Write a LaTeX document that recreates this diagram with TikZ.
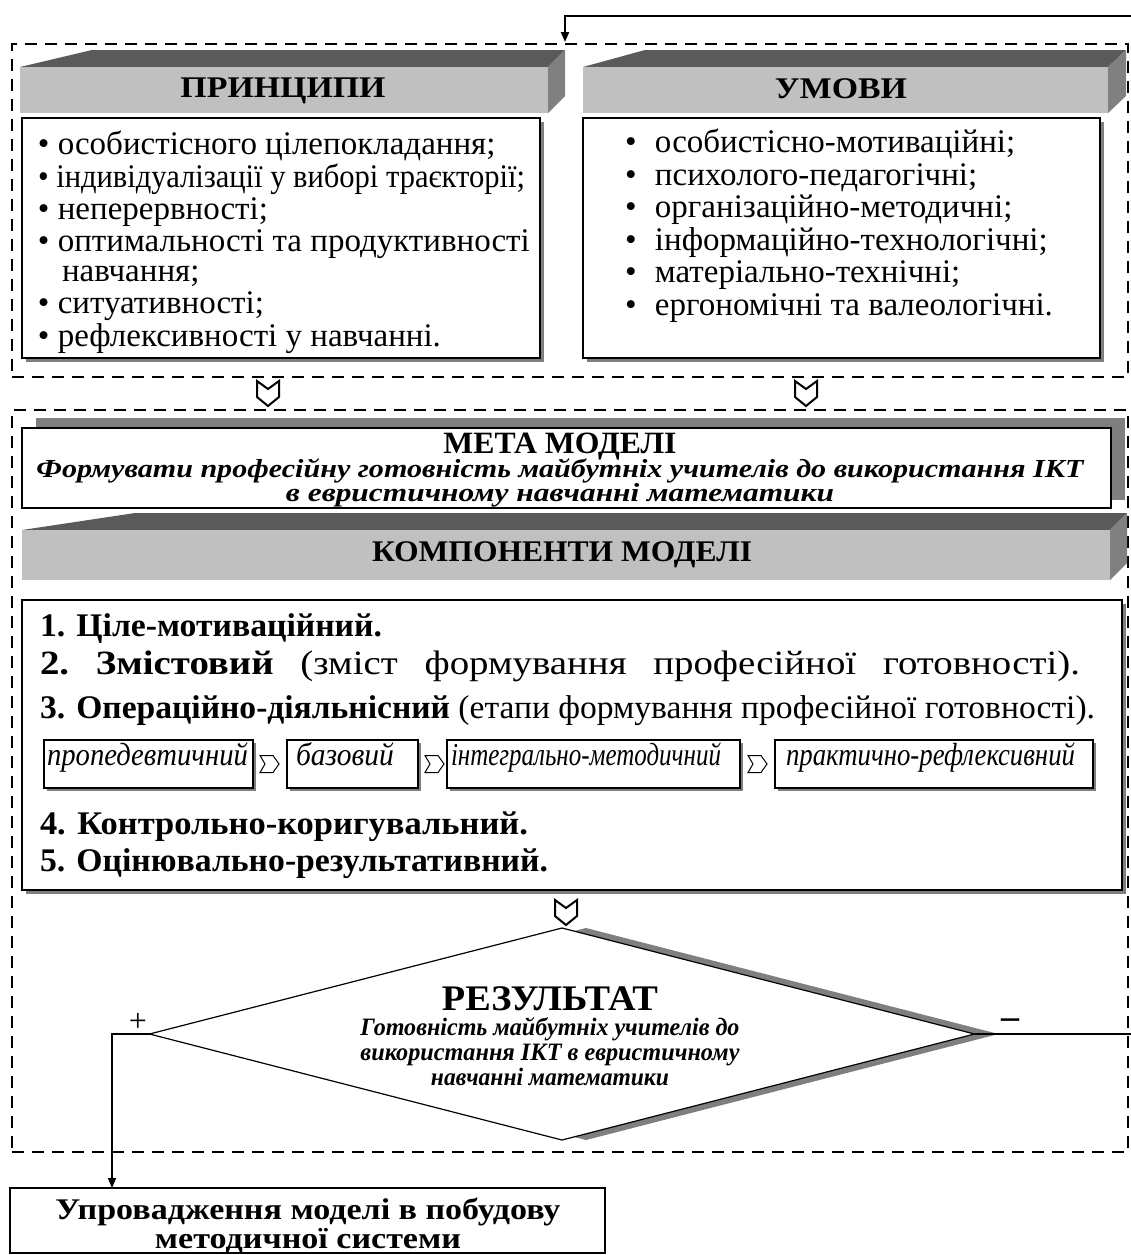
\documentclass[tikz,border=0pt]{standalone}
\usepackage{fontspec}
\IfFontExistsTF{LiberationSerif-Regular.ttf}{%
  \setmainfont{LiberationSerif}[Extension=.ttf, UprightFont=*-Regular, BoldFont=*-Bold, ItalicFont=*-Italic, BoldItalicFont=*-BoldItalic]}{%
  \setmainfont{Liberation Serif}}
\usepackage{graphicx}
\usetikzlibrary{shapes.geometric,arrows.meta,calc,shadows}
\definecolor{topc}{HTML}{5A5A5A}
\definecolor{frontc}{HTML}{C0C0C0}
\definecolor{sidec}{HTML}{808080}
\definecolor{shadc}{HTML}{7F7F7F}
\newcommand\fw[2]{\resizebox{#1}{\height}{#2}}
\lineskiplimit=-30pt
\begin{document}
\begin{tikzpicture}[x=0.5pt,y=-0.5pt,
  grp/.style={draw, dash pattern=on 6pt off 4pt, line width=1.2pt, inner sep=0, outer sep=0, anchor=north west},
  cbox/.style={draw, fill=white, line width=0.8pt, inner sep=0, outer sep=0, anchor=north west,
     drop shadow={shadow xshift=2pt, shadow yshift=-2pt, fill=shadc, opacity=1}},
  sbox/.style={draw, fill=white, line width=0.6pt, inner sep=0, outer sep=0, anchor=north west,
     drop shadow={shadow xshift=1.5pt, shadow yshift=-1.5pt, fill=shadc, opacity=1}},
  ftop/.style={fill=topc},
  ffront/.style={fill=frontc},
  fside/.style={fill=sidec},
  lst/.style={inner sep=0, outer sep=0, anchor=base west, text depth=0pt, font=\fontsize{16.5}{18}\selectfont},
  hdr/.style={inner sep=0, outer sep=0, font=\fontsize{15}{18}\selectfont\bfseries},
  stg/.style={inner sep=0, outer sep=0, anchor=base west, font=\fontsize{16}{18}\selectfont\itshape},
  conn/.style={line width=1pt},
  conn2/.style={line width=0.7pt},
  arr/.style={-{Triangle[length=5pt,width=4pt]}},
  dchev/.pic={\draw[line width=1pt, fill=white] (-11,0) -- (0,8) -- (11,0) -- (11,16) -- (0,25) -- (-11,16) -- cycle;},
  rchev/.pic={\draw[line width=0.5pt, fill=white] (0,-8.5) -- (13,-8.5) -- (19,0) -- (13,8.5) -- (0,8.5) -- (5,0) -- cycle;},
]
\useasboundingbox (0,0) rectangle (1131,1255);

% ---------- group 1 ----------
\node[grp, minimum width=558pt, minimum height=166.5pt] (grp1) at (12,44) {};

% principles header
\fill[ftop] (20,67) -- (92,50) -- (565,50) -- (548,67) -- cycle;
\fill[ffront] (20,67) rectangle (548,113);
\fill[fside] (548,67) -- (565,50) -- (565,96) -- (548,113) -- cycle;
\node[hdr] (phead) at (283,91) {\fw{102.5pt}{ПРИНЦИПИ}};

% conditions header
\fill[ftop] (583,67) -- (645,50) -- (1126,50) -- (1108,67) -- cycle;
\fill[ffront] (583,67) rectangle (1108,113);
\fill[fside] (1108,67) -- (1126,50) -- (1126,96) -- (1108,113) -- cycle;
\node[hdr] (uhead) at (841,89) {\fw{66pt}{УМОВИ}};

% principles box
\node[cbox, minimum width=259pt, minimum height=120pt] (pbox) at (22,118) {};
\node[lst] (p1) at (38,154) {• особистісного цілепокладання;};
\node[lst] (p2) at (38,187) {\fw{243.5pt}{• індивідуалізації у виборі траєкторії;}};
\node[lst] (p3) at (38,219) {• неперервності;};
\node[lst] (p4) at (38,251) {• оптимальності та продуктивності};
\node[lst] (p5) at (62,281) {навчання;};
\node[lst] (p6) at (38,313) {• ситуативності;};
\node[lst] (p7) at (38,346) {• рефлексивності у навчанні.};

% conditions box
\node[cbox, minimum width=258.5pt, minimum height=120pt] (ubox) at (583,118) {};
\node[lst] (u1) at (625,152) {\makebox[15pt][l]{•}особистісно-мотиваційні;};
\node[lst] (u2) at (625,185) {\makebox[15pt][l]{•}психолого-педагогічні;};
\node[lst] (u3) at (625,217) {\makebox[15pt][l]{•}організаційно-методичні;};
\node[lst] (u4) at (625,250) {\makebox[15pt][l]{•}інформаційно-технологічні;};
\node[lst] (u5) at (625,282) {\makebox[15pt][l]{•}матеріально-технічні;};
\node[lst] (u6) at (625,315) {\makebox[15pt][l]{•}ергономічні та валеологічні.};

% chevrons between groups
\pic at (268,381) {dchev};
\pic at (806,381) {dchev};

% ---------- group 2 ----------
\node[grp, minimum width=558pt, minimum height=371pt] (grp2) at (12,410) {};

% goal box
\fill[shadc] (36,418) rectangle (1125,500);
\node[draw, fill=white, line width=0.8pt, inner sep=0, outer sep=0, anchor=north west,
      minimum width=544.5pt, minimum height=40pt] (meta) at (22,428) {};
\node[inner sep=0, outer sep=0, align=center, font=\fontsize{13}{12}\selectfont\bfseries] (metatxt) at (560,470)
  {{\fontsize{15.5}{12}\selectfont\fw{116.5pt}{МЕТА МОДЕЛІ}}\\ \fw{523.5pt}{\itshape Формувати професійну готовність майбутніх учителів до використання ІКТ}\\ \fw{274pt}{\itshape в евристичному навчанні математики}};

% components header
\fill[ftop] (22,530) -- (135,513) -- (1127,513) -- (1110,530) -- cycle;
\fill[ffront] (22,530) rectangle (1110,580);
\fill[fside] (1110,530) -- (1127,513) -- (1127,563) -- (1110,580) -- cycle;
\node[hdr] (khead) at (562,555) {\fw{190pt}{КОМПОНЕНТИ МОДЕЛІ}};

% components box
\node[cbox, minimum width=550pt, minimum height=145pt] (comps) at (22,600) {};
\node[lst] (c1) at (40,636) {\fw{171pt}{\textbf{1. Ціле-мотиваційний.}}};
\node[lst, font=\fontsize{17}{18}\selectfont] (c2) at (40,674) {\fw{520pt}{\makebox[455pt][s]{\frenchspacing\textbf{2. Змістовий} (зміст формування професійної готовності).}}};
\node[lst] (c3) at (40,718) {\fw{527.5pt}{\textbf{3. Операційно-діяльнісний} (етапи формування професійної готовності).}};
\node[lst] (c4) at (40,834) {\fw{244pt}{\textbf{4. Контрольно-коригувальний.}}};
\node[lst] (c5) at (40,871) {\fw{254pt}{\textbf{5. Оцінювально-результативний.}}};

% stages
\node[sbox, minimum width=104.5pt, minimum height=24pt] (s1) at (44,740) {};
\node[sbox, minimum width=65.5pt, minimum height=24pt] (s2) at (287,740) {};
\node[sbox, minimum width=146.5pt, minimum height=24pt] (s3) at (447,740) {};
\node[sbox, minimum width=159pt, minimum height=24pt] (s4) at (775,740) {};
\node[stg] (st1) at (47,765) {\fw{100.5pt}{пропедевтичний}};
\node[stg] (st2) at (296,765) {\fw{49pt}{базовий}};
\node[stg] (st3) at (451,765) {\fw{135pt}{інтегрально-методичний}};
\node[stg] (st4) at (786,765) {\fw{144.5pt}{практично-рефлексивний}};
\pic at (260,764) {rchev};
\pic at (425,764) {rchev};
\pic at (748,764) {rchev};

% chevron to result
\pic at (566,900) {dchev};

% result diamond
\node[diamond, fill=shadc, inner sep=0, outer sep=0, minimum width=412.5pt, minimum height=106pt] (resshadow) at (586,1034) {};
\node[diamond, draw, fill=white, line width=0.6pt, inner sep=0, outer sep=0, minimum width=412.5pt, minimum height=106pt] (res) at (562,1034) {};
\node[inner sep=0, outer sep=0, align=center, font=\fontsize{12.5}{12.5}\selectfont\bfseries\itshape] (restxt) at (550,1036)
  {{\fontsize{18}{12.5}\selectfont\upshape\fw{108pt}{РЕЗУЛЬТАТ}}\\ \fw{189.5pt}{Готовність майбутніх учителів до}\\ \fw{189.5pt}{використання ІКТ в евристичному}\\ \fw{119pt}{навчанні математики}};

\node[inner sep=0, font=\fontsize{16}{18}\selectfont] (plus) at (138,1022) {+};
\node[inner sep=0, font=\fontsize{18}{18}\selectfont\bfseries] (minus) at (1010,1024) {–};

% implementation box
\node[draw, fill=white, line width=0.8pt, inner sep=0, outer sep=0, anchor=north west,
      minimum width=297.5pt, minimum height=32.5pt] (impl) at (10,1188) {};
\node[inner sep=0, outer sep=0, align=center, font=\fontsize{15}{14.5}\selectfont\bfseries] (impltxt) at (308,1226)
  {\fw{252.5pt}{Упровадження моделі в побудову}\\ \fw{153pt}{методичної системи}};

% connectors
\coordinate (fbR) at (1140,16);
\coordinate (fbE) at (565,42);
\coordinate (lx) at (112,0);
\draw[conn, arr] (res.east) -| (fbR) -| (fbE);
\draw[conn2, arr] (res.west) -| (impl.north -| lx);
\end{tikzpicture}
\end{document}
